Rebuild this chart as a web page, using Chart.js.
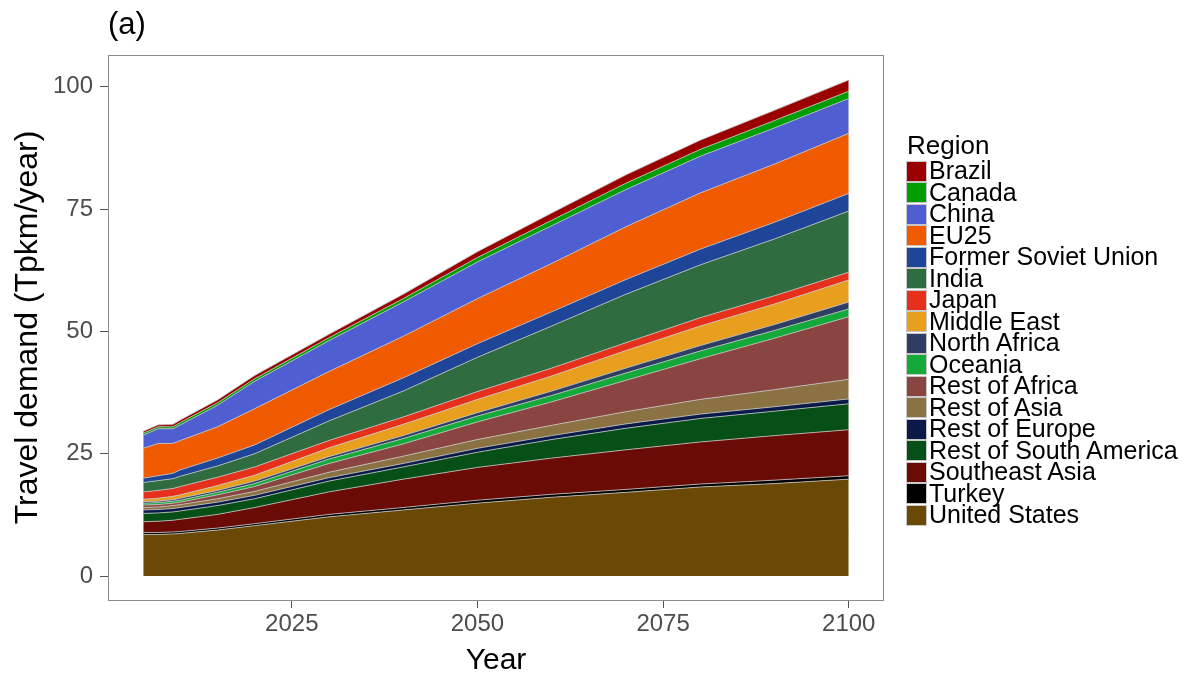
<!DOCTYPE html>
<html>
<head>
<meta charset="utf-8">
<script src="https://cdn.jsdelivr.net/npm/chart.js@4.4.1/dist/chart.umd.min.js"></script>
<style>
  body { margin: 0; background: #fff; font-family: 'Liberation Sans', Arial, sans-serif; }
  #wrap { position: relative; width: 1190px; height: 679px; }
  #panelTag { position: absolute; left: 108px; top: 8px; font-size: 31px; line-height: 31px; color: #000; }
  #legend { position: absolute; left: 906px; top: 132px; color: #000; }
  #legend .ttl { font-size: 26px; line-height: 26px; margin-left: 1px; margin-bottom: 2px; }
  #legend .row { height: 21.5px; line-height: 21.5px; font-size: 25px; white-space: nowrap; position: relative; }
  #legend .sw { position: absolute; left: 0; top: 0.5px; width: 19px; height: 19px; border: 1px solid #c8c8c8; }
  #legend .lb { position: absolute; left: 23px; top: 0; }
</style>
</head>
<body>
<div id="wrap">
  <canvas id="chart1" width="1190" height="679"></canvas>
  <div id="panelTag">(a)</div>
  <div id="legend"></div>
</div>
<script>
// years
const years = [2005, 2007, 2009, 2010, 2015, 2020, 2030, 2040, 2050, 2060, 2070, 2080, 2090, 2100];

// travel demand per region, Tpkm/year (stack order: bottom first)
const unitedStates = [8.5, 8.5, 8.6, 8.7, 9.4, 10.3, 12.1, 13.5, 14.9, 16.1, 17.1, 18.2, 18.9, 19.8];
const turkey = [0.4, 0.4, 0.4, 0.4, 0.4, 0.4, 0.5, 0.5, 0.6, 0.6, 0.6, 0.6, 0.7, 0.7];
const southeastAsia = [2.2, 2.3, 2.4, 2.5, 2.8, 3.3, 4.6, 5.8, 6.7, 7.4, 8.1, 8.6, 9.1, 9.4];
const restSouthAmerica = [1.7, 1.7, 1.7, 1.7, 1.8, 1.8, 2.2, 2.5, 3.1, 3.8, 4.4, 4.8, 5.0, 5.3];
const restEurope = [0.7, 0.7, 0.7, 0.7, 0.7, 0.7, 0.7, 0.7, 0.8, 0.8, 0.9, 0.9, 0.9, 1.0];
const restAsia = [0.5, 0.5, 0.6, 0.6, 0.7, 0.8, 1.1, 1.5, 1.8, 2.1, 2.5, 3.0, 3.5, 4.0];
const restAfrica = [0.5, 0.5, 0.5, 0.5, 0.8, 1.0, 1.8, 2.5, 3.6, 4.8, 6.4, 8.3, 10.5, 12.8];
const oceania = [0.4, 0.4, 0.4, 0.4, 0.5, 0.6, 0.9, 1.1, 1.2, 1.3, 1.5, 1.6, 1.6, 1.6];
const northAfrica = [0.3, 0.3, 0.3, 0.4, 0.4, 0.5, 0.5, 0.6, 0.7, 0.9, 1.0, 1.1, 1.2, 1.4];
const middleEast = [0.5, 0.6, 0.7, 0.7, 1.0, 1.2, 1.8, 2.3, 2.7, 3.1, 3.6, 4.0, 4.2, 4.5];
const japan = [1.5, 1.6, 1.6, 1.7, 1.7, 1.7, 1.5, 1.5, 1.6, 1.6, 1.6, 1.7, 1.7, 1.6];
const india = [1.9, 2.0, 2.0, 2.1, 2.3, 2.7, 4.0, 5.3, 7.0, 8.6, 9.9, 10.8, 11.6, 12.5];
const formerSovietUnion = [0.9, 1.0, 1.1, 1.3, 1.6, 1.8, 2.3, 2.7, 2.8, 2.9, 3.0, 3.2, 3.4, 3.6];
const eu25 = [6.1, 6.6, 6.1, 6.0, 6.4, 7.4, 7.8, 8.5, 9.2, 9.9, 10.8, 11.5, 11.9, 12.3];
const china = [2.7, 3.0, 3.0, 3.2, 4.4, 5.6, 6.3, 7.0, 7.5, 7.7, 7.6, 7.5, 7.4, 7.1];
const canada = [0.4, 0.4, 0.4, 0.5, 0.5, 0.5, 0.6, 0.7, 0.9, 1.1, 1.3, 1.4, 1.5, 1.5];
const brazil = [0.4, 0.4, 0.5, 0.5, 0.6, 0.7, 0.7, 0.9, 1.2, 1.5, 1.7, 1.9, 2.1, 2.3];

const xTicks = [2025, 2050, 2075, 2100];
const yTicks = [0, 25, 50, 75, 100];

const regions = [
  { name: 'United States', values: unitedStates, color: '#6a4806' },
  { name: 'Turkey', values: turkey, color: '#000000' },
  { name: 'Southeast Asia', values: southeastAsia, color: '#6a0b05' },
  { name: 'Rest of South America', values: restSouthAmerica, color: '#064f17' },
  { name: 'Rest of Europe', values: restEurope, color: '#0a1a48' },
  { name: 'Rest of Asia', values: restAsia, color: '#8a7243' },
  { name: 'Rest of Africa', values: restAfrica, color: '#8b4540' },
  { name: 'Oceania', values: oceania, color: '#14aa3a' },
  { name: 'North Africa', values: northAfrica, color: '#2d3d63' },
  { name: 'Middle East', values: middleEast, color: '#e89f1d' },
  { name: 'Japan', values: japan, color: '#e5311c' },
  { name: 'India', values: india, color: '#2f6d40' },
  { name: 'Former Soviet Union', values: formerSovietUnion, color: '#1e4598' },
  { name: 'EU25', values: eu25, color: '#f05a00' },
  { name: 'China', values: china, color: '#4f5fd1' },
  { name: 'Canada', values: canada, color: '#009e00' },
  { name: 'Brazil', values: brazil, color: '#9b0000' },
];

Chart.defaults.font.family = "'Liberation Sans', Arial, sans-serif";

const datasets = regions.map((r, i) => ({
  label: r.name,
  data: r.values.map((v, j) => ({ x: years[j], y: v })),
  backgroundColor: r.color,
  borderColor: '#c4c4c4',
  borderWidth: 0.8,
  pointRadius: 0,
  tension: 0,
  fill: i === 0 ? 'origin' : '-1',
}));

// grey frame round the plotting panel
const panelBorder = {
  id: 'panelBorder',
  afterDatasetsDraw(chart) {
    const { ctx, chartArea } = chart;
    ctx.save();
    ctx.strokeStyle = '#8c8c8c';
    ctx.lineWidth = 1;
    ctx.strokeRect(chartArea.left + 0.5, chartArea.top + 0.5,
      chartArea.right - chartArea.left - 1, chartArea.bottom - chartArea.top);
    ctx.restore();
  },
};

new Chart(document.getElementById('chart1'), {
  type: 'line',
  data: { datasets },
  options: {
    responsive: false,
    animation: false,
    layout: { padding: { top: 55, right: 306, bottom: 0, left: 0 } },
    scales: {
      x: {
        type: 'linear',
        min: 2000.25,
        max: 2104.75,
        afterBuildTicks: (s) => { s.ticks = xTicks.map(v => ({ value: v })); },
        afterFit: (s) => { s.height = 79; },
        ticks: { color: '#4d4d4d', font: { size: 24 }, padding: 2, maxRotation: 0, callback: (v) => String(v) },
        grid: { drawOnChartArea: false, tickLength: 8, tickColor: '#555', tickWidth: 1 },
        border: { display: false },
        title: { display: true, text: 'Year', color: '#000', font: { size: 30 }, padding: { top: 0, bottom: 0 } },
      },
      y: {
        type: 'linear',
        stacked: true,
        min: -4.9,
        max: 106.5,
        afterBuildTicks: (s) => { s.ticks = yTicks.map(v => ({ value: v })); },
        afterFit: (s) => { s.width = 108; },
        ticks: { color: '#4d4d4d', font: { size: 24 }, padding: 7 },
        grid: { drawOnChartArea: false, tickLength: 8, tickColor: '#555', tickWidth: 1 },
        border: { display: false },
        title: { display: true, text: 'Travel demand (Tpkm/year)', color: '#000', font: { size: 32 }, padding: { top: 9, bottom: 0 } },
      },
    },
    plugins: {
      legend: { display: false },
      tooltip: { enabled: false },
    },
  },
  plugins: [panelBorder],
});

// legend, top of the stack first
const legendEl = document.getElementById('legend');
let html = '<div class="ttl">Region</div>';
regions.slice().reverse().forEach(r => {
  html += '<div class="row"><span class="sw" style="background:' + r.color + '"></span><span class="lb">' + r.name + '</span></div>';
});
legendEl.innerHTML = html;
</script>
</body>
</html>
